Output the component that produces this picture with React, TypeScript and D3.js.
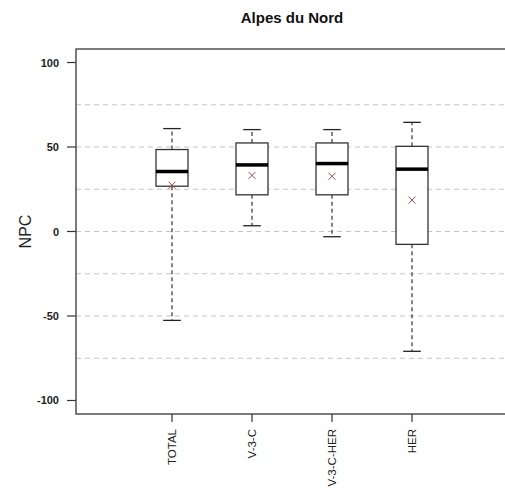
import React from "react";
import * as d3 from "d3";

const categories = ["TOTAL", "V-3-C", "V-3-C-HER", "HER"];
const whiskerLow = [-52.6, 3.4, -3.1, -70.9];
const q1 = [26.8, 21.7, 21.7, -7.6];
const medians = [35.5, 39.4, 40.2, 36.9];
const q3 = [48.5, 52.4, 52.4, 50.4];
const whiskerHigh = [60.9, 60.3, 60.3, 64.6];
const means = [27.4, 33.2, 32.7, 18.6];
const yTicks = [-100, -50, 0, 50, 100];
const gridValues = [-75, -50, -25, 0, 25, 50, 75];
const title = "Alpes du Nord";
const yLabel = "NPC";

const W = 505;
const H = 493;
const left = 76;
const right = 508;
const top = 49;
const bottom = 414;

export default function App() {
  const x = d3.scaleLinear().domain([-0.2, 5.2]).range([left, right]);
  const y = d3.scaleLinear().domain([-108, 108]).range([bottom, top]);
  const boxHalf = x(0.2) - x(0);
  const capHalf = x(0.11) - x(0);
  const font = "'Liberation Sans', Arial, sans-serif";
  const mk = 3.5;

  return (
    <svg
      width={W}
      height={H}
      style={{ position: "absolute", left: 0, top: 0, background: "#fff" }}
      fontFamily={font}
    >
      <rect x={0} y={0} width={W} height={H} fill="#fff" />
      <text x={(left + right) / 2} y={23} textAnchor="middle" fontSize={15} fontWeight="bold" fill="#111">
        {title}
      </text>
      {gridValues.map((g) => (
        <line
          key={"g" + g}
          x1={left}
          x2={right}
          y1={y(g)}
          y2={y(g)}
          stroke="#c4c4c4"
          strokeWidth={1}
          strokeDasharray="5,4"
        />
      ))}
      {categories.map((c, i) => {
        const cx = x(i + 1);
        return (
          <g key={c}>
            <line x1={cx} x2={cx} y1={y(q3[i])} y2={y(whiskerHigh[i])} stroke="#333" strokeWidth={1.2} strokeDasharray="4,3" />
            <line x1={cx} x2={cx} y1={y(q1[i])} y2={y(whiskerLow[i])} stroke="#333" strokeWidth={1.2} strokeDasharray="4,3" />
            <line x1={cx - capHalf} x2={cx + capHalf} y1={y(whiskerHigh[i])} y2={y(whiskerHigh[i])} stroke="#222" strokeWidth={1.3} />
            <line x1={cx - capHalf} x2={cx + capHalf} y1={y(whiskerLow[i])} y2={y(whiskerLow[i])} stroke="#222" strokeWidth={1.3} />
            <rect
              x={cx - boxHalf}
              y={y(q3[i])}
              width={2 * boxHalf}
              height={y(q1[i]) - y(q3[i])}
              fill="#fff"
              stroke="#333"
              strokeWidth={1.3}
            />
            <line x1={cx - boxHalf} x2={cx + boxHalf} y1={y(medians[i])} y2={y(medians[i])} stroke="#000" strokeWidth={3.5} />
            <g stroke="#a8484c" strokeWidth={1}>
              <line x1={cx - mk} x2={cx + mk} y1={y(means[i]) - mk} y2={y(means[i]) + mk} />
              <line x1={cx - mk} x2={cx + mk} y1={y(means[i]) + mk} y2={y(means[i]) - mk} />
            </g>
            <line x1={cx} x2={cx} y1={bottom} y2={bottom + 8} stroke="#333" strokeWidth={1.2} />
            <text
              transform={`translate(${cx + 4},${bottom + 15}) rotate(-90)`}
              textAnchor="end"
              fontSize={11.5}
              fill="#222"
            >
              {c}
            </text>
          </g>
        );
      })}
      {yTicks.map((t) => (
        <g key={"t" + t}>
          <line x1={left - 9} x2={left} y1={y(t)} y2={y(t)} stroke="#333" strokeWidth={1.2} />
          <text x={59} y={y(t) + 4} textAnchor="end" fontSize={11} fontWeight="bold" fill="#222">
            {t}
          </text>
        </g>
      ))}
      <rect x={left} y={top} width={right - left} height={bottom - top} fill="none" stroke="#444" strokeWidth={1.4} />
      <text transform={`translate(31,${y(0)}) rotate(-90)`} textAnchor="middle" fontSize={16} fill="#222">
        {yLabel}
      </text>
    </svg>
  );
}
